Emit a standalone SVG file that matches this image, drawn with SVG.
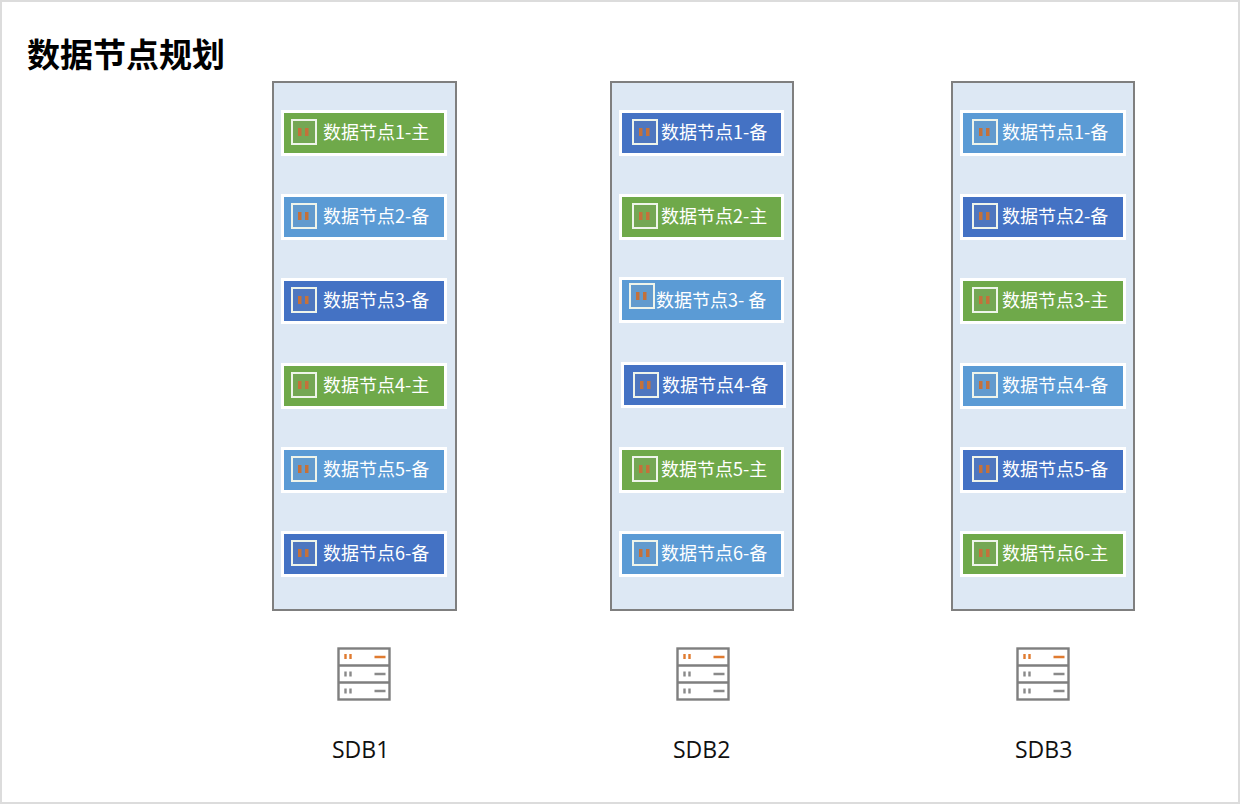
<svg xmlns="http://www.w3.org/2000/svg" width="1240" height="804" viewBox="0 0 1240 804">
<style>
.page{fill:#fff;stroke:#dcdcdc;stroke-width:2}
.col{fill:#dde8f4;stroke:#7f7f7f;stroke-width:2}
.frame{fill:#fff}
.g{fill:#6fa94a}.l{fill:#5b9bd5}.d{fill:#4472c4}
.t{font-family:"Noto Sans CJK SC","Noto Sans",sans-serif;font-size:18px;fill:#fff}
.title{font-family:"Noto Sans CJK SC",sans-serif;font-size:33px;font-weight:700;fill:#000}
.sdb{font-family:"Open Sans","Noto Sans",sans-serif;font-size:23px;fill:#111}
.ib{fill-opacity:.12;fill:#999;stroke:#eef4ea;stroke-width:2}
.im{fill:#c4713a}
.sv{fill:#fff;stroke:#7f7f7f;stroke-width:2.4}
.so{stroke:#e07b30;stroke-width:2.4;fill:none}
.sg{stroke:#8a8a8a;stroke-width:2.4;fill:none}
</style>
<defs>
<g id="icon">
<rect class="ib" x="1" y="1" width="24" height="24"/>
<rect class="im" x="7" y="9" width="3.500" height="8"/>
<rect class="im" x="14" y="9" width="3.500" height="8"/>
</g>
<g id="server">
<rect class="sv" x="1" y="1" width="51" height="51"/>
<path class="sv" d="M1 18H52M1 35H52"/>
<path class="so" d="M8 6.500v5M13 6.500v5M37 9.500H48"/>
<path class="sg" d="M8 24v5M13 24v5M37 26.500H48M8 41v5M13 41v5M37 43.500H48"/>
</g>
</defs>
<rect class="page" x="1" y="1" width="1238" height="802"/>
<text class="title" x="27" y="67">数据节点规划</text>
<g id="connectors"/>
<g id="sdb1">
<rect class="col" x="273" y="82" width="183" height="528"/>
<g id="n1-1"><rect class="frame" x="281" y="110" width="166" height="46"/><rect class="g" x="284" y="113" width="160" height="40"/><use href="#icon" x="291" y="119"/><text class="t" x="323" y="139">数据节点1-主</text></g>
<g id="n1-2"><rect class="frame" x="281" y="194" width="166" height="46"/><rect class="l" x="284" y="197" width="160" height="40"/><use href="#icon" x="291" y="203"/><text class="t" x="323" y="223">数据节点2-备</text></g>
<g id="n1-3"><rect class="frame" x="281" y="278" width="166" height="46"/><rect class="d" x="284" y="281" width="160" height="40"/><use href="#icon" x="291" y="287"/><text class="t" x="323" y="307">数据节点3-备</text></g>
<g id="n1-4"><rect class="frame" x="281" y="363" width="166" height="46"/><rect class="g" x="284" y="366" width="160" height="40"/><use href="#icon" x="291" y="372"/><text class="t" x="323" y="392">数据节点4-主</text></g>
<g id="n1-5"><rect class="frame" x="281" y="447" width="166" height="46"/><rect class="l" x="284" y="450" width="160" height="40"/><use href="#icon" x="291" y="456"/><text class="t" x="323" y="476">数据节点5-备</text></g>
<g id="n1-6"><rect class="frame" x="281" y="531" width="166" height="46"/><rect class="d" x="284" y="534" width="160" height="40"/><use href="#icon" x="291" y="540"/><text class="t" x="323" y="560">数据节点6-备</text></g>
<use href="#server" x="337.500" y="647.500"/>
<text class="sdb" x="332" y="758">SDB1</text>
</g>
<g id="sdb2">
<rect class="col" x="611" y="82" width="182" height="528"/>
<g id="n2-1"><rect class="frame" x="619" y="110" width="165" height="46"/><rect class="d" x="622" y="113" width="159" height="40"/><use href="#icon" x="632" y="119"/><text class="t" x="661" y="139">数据节点1-备</text></g>
<g id="n2-2"><rect class="frame" x="619" y="194" width="165" height="46"/><rect class="g" x="622" y="197" width="159" height="40"/><use href="#icon" x="632" y="203"/><text class="t" x="661" y="223">数据节点2-主</text></g>
<g id="n2-3"><rect class="frame" x="619" y="277" width="165" height="46"/><rect class="l" x="622" y="280" width="159" height="40"/><use href="#icon" x="629" y="283"/><text class="t" x="656" y="307">数据节点3- 备</text></g>
<g id="n2-4"><rect class="frame" x="621" y="362" width="165" height="46"/><rect class="d" x="624" y="365" width="159" height="40"/><use href="#icon" x="633" y="372"/><text class="t" x="662" y="392">数据节点4-备</text></g>
<g id="n2-5"><rect class="frame" x="619" y="447" width="165" height="46"/><rect class="g" x="622" y="450" width="159" height="40"/><use href="#icon" x="632" y="456"/><text class="t" x="661" y="476">数据节点5-主</text></g>
<g id="n2-6"><rect class="frame" x="619" y="531" width="165" height="46"/><rect class="l" x="622" y="534" width="159" height="40"/><use href="#icon" x="632" y="540"/><text class="t" x="661" y="560">数据节点6-备</text></g>
<use href="#server" x="676.500" y="647.500"/>
<text class="sdb" x="673" y="758">SDB2</text>
</g>
<g id="sdb3">
<rect class="col" x="952" y="82" width="182" height="528"/>
<g id="n3-1"><rect class="frame" x="960" y="110" width="166" height="46"/><rect class="l" x="963" y="113" width="160" height="40"/><use href="#icon" x="972" y="119"/><text class="t" x="1002" y="139">数据节点1-备</text></g>
<g id="n3-2"><rect class="frame" x="960" y="194" width="166" height="46"/><rect class="d" x="963" y="197" width="160" height="40"/><use href="#icon" x="972" y="203"/><text class="t" x="1002" y="223">数据节点2-备</text></g>
<g id="n3-3"><rect class="frame" x="960" y="278" width="166" height="46"/><rect class="g" x="963" y="281" width="160" height="40"/><use href="#icon" x="972" y="287"/><text class="t" x="1002" y="307">数据节点3-主</text></g>
<g id="n3-4"><rect class="frame" x="960" y="363" width="166" height="46"/><rect class="l" x="963" y="366" width="160" height="40"/><use href="#icon" x="972" y="372"/><text class="t" x="1002" y="392">数据节点4-备</text></g>
<g id="n3-5"><rect class="frame" x="960" y="447" width="166" height="46"/><rect class="d" x="963" y="450" width="160" height="40"/><use href="#icon" x="972" y="456"/><text class="t" x="1002" y="476">数据节点5-备</text></g>
<g id="n3-6"><rect class="frame" x="960" y="531" width="166" height="46"/><rect class="g" x="963" y="534" width="160" height="40"/><use href="#icon" x="972" y="540"/><text class="t" x="1002" y="560">数据节点6-主</text></g>
<use href="#server" x="1016.500" y="647.500"/>
<text class="sdb" x="1015" y="758">SDB3</text>
</g>
</svg>
